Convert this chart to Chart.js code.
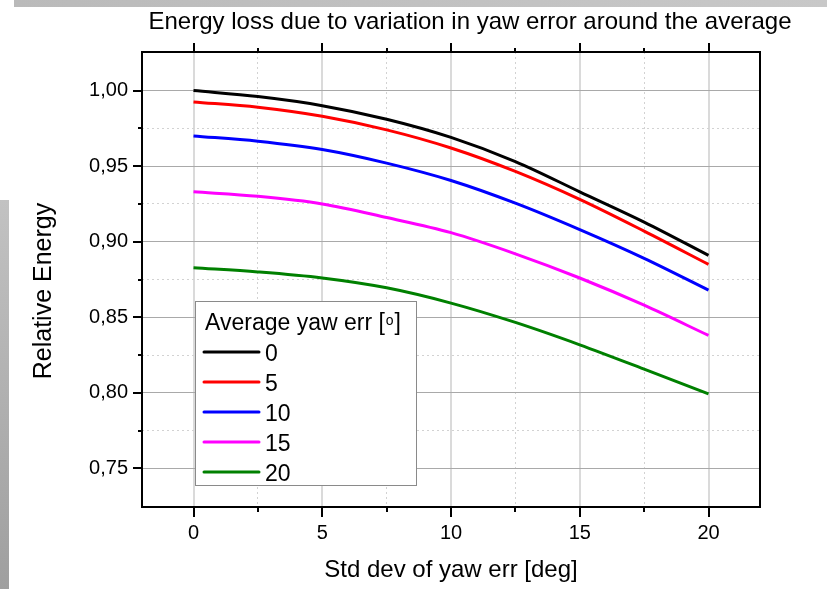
<!DOCTYPE html>
<html>
<head>
<meta charset="utf-8">
<title>Energy loss due to variation in yaw error around the average</title>
<script src="https://cdn.jsdelivr.net/npm/chart.js@4.4.1/dist/chart.umd.min.js"></script>
<style>
  html, body { margin: 0; padding: 0; background: #fff; overflow: hidden; }
  #wrap { position: relative; width: 827px; height: 589px; }
  #chart { position: absolute; left: 0; top: 0; }
  #topBar { position: absolute; left: 14px; top: 0; width: 813px; height: 7px; background: linear-gradient(to right, #bababa, #c8c8c8); }
  #sideBar { position: absolute; left: 0; top: 200px; width: 9px; height: 389px; background: linear-gradient(to bottom, #c2c2c2, #9f9f9f); }
</style>
</head>
<body>
<div id="wrap">
  <canvas id="chart" width="827" height="589"></canvas>
  <div id="topBar"></div>
  <div id="sideBar"></div>
</div>
<script>
// std dev of yaw error [deg]
const stdDev = [0, 2.5, 5, 7.5, 10, 12.5, 15, 17.5, 20];

// average yaw error [deg] -> relative energy
const yawAverages = ['0', '5', '10', '15', '20'];
const energyYaw0  = [1.000, 0.996, 0.990, 0.981, 0.969, 0.953, 0.933, 0.913, 0.891];
const energyYaw5  = [0.9925, 0.989, 0.983, 0.974, 0.962, 0.9465, 0.928, 0.907, 0.885];
const energyYaw10 = [0.970, 0.9665, 0.961, 0.952, 0.9405, 0.9255, 0.908, 0.889, 0.868];
const energyYaw15 = [0.933, 0.930, 0.925, 0.916, 0.906, 0.892, 0.876, 0.858, 0.838];
const energyYaw20 = [0.8828, 0.880, 0.876, 0.8695, 0.8594, 0.8466, 0.8318, 0.8157, 0.7993];

const xTickValues = [0, 2.5, 5, 7.5, 10, 12.5, 15, 17.5, 20];
const yTickValues = [0.75, 0.775, 0.8, 0.825, 0.85, 0.875, 0.9, 0.925, 0.95, 0.975, 1.0];

const seriesColors = ['#000000', '#ff0000', '#0000ff', '#ff00ff', '#008000'];
const FONT = '"Liberation Sans", Arial, sans-serif';

Chart.defaults.font.family = FONT;
Chart.defaults.color = '#000';

const isMajorX = (v) => Math.abs(v / 5 - Math.round(v / 5)) < 1e-6;
const isMajorY = (v) => Math.abs(v * 20 - Math.round(v * 20)) < 1e-6;

const allSeries = [energyYaw0, energyYaw5, energyYaw10, energyYaw15, energyYaw20];
const datasets = allSeries.map((values, i) => ({
    label: yawAverages[i],
    data: values.map((v, j) => ({ x: stdDev[j], y: v })),
    borderColor: seriesColors[i],
    backgroundColor: seriesColors[i],
    borderWidth: 3,
    pointRadius: 0,
    fill: false,
    cubicInterpolationMode: 'monotone',
}));

// title, axis titles, frame, tick marks and the inset legend
const decorations = {
    id: 'decorations',
    afterDatasetsDraw(chart) {
        const { ctx, chartArea } = chart;
        // legend box
        const bx = chartArea.left + 53, by = chartArea.top + 249, bw = 221, bh = 184;
        ctx.save();
        ctx.fillStyle = '#fff';
        ctx.fillRect(bx, by, bw, bh);
        ctx.strokeStyle = '#8a8a8a';
        ctx.lineWidth = 1;
        ctx.strokeRect(bx + 0.5, by + 0.5, bw, bh);

        ctx.fillStyle = '#000';
        ctx.textAlign = 'left';
        ctx.textBaseline = 'alphabetic';
        ctx.font = '23px ' + FONT;
        const head = 'Average yaw err [';
        ctx.fillText(head, bx + 10, by + 29);
        let hx = bx + 10 + ctx.measureText(head).width;
        ctx.font = '14px ' + FONT;
        ctx.fillText('o', hx + 1, by + 23.5);
        hx += ctx.measureText('o').width + 2;
        ctx.font = '23px ' + FONT;
        ctx.fillText(']', hx, by + 29);

        chart.data.datasets.forEach((ds, i) => {
            const ry = by + 51 + i * 30;
            ctx.strokeStyle = ds.borderColor;
            ctx.lineWidth = 3;
            ctx.lineCap = 'round';
            ctx.beginPath();
            ctx.moveTo(bx + 9, ry);
            ctx.lineTo(bx + 64, ry);
            ctx.stroke();
            ctx.fillStyle = '#000';
            ctx.fillText(ds.label, bx + 70, ry + 8.5);
        });
        ctx.restore();
    },
    afterDraw(chart) {
        const { ctx, chartArea, scales } = chart;
        const { left, right, top, bottom } = chartArea;
        ctx.save();
        ctx.strokeStyle = '#000';
        ctx.lineWidth = 2;
        ctx.lineCap = 'butt';
        ctx.strokeRect(left, top, right - left, bottom - top);

        ctx.beginPath();
        scales.x.ticks.forEach(t => {
            const px = Math.round(scales.x.getPixelForValue(t.value));
            const major = isMajorX(t.value);
            ctx.moveTo(px, bottom);
            ctx.lineTo(px, bottom + (major ? 10 : 5));
            ctx.moveTo(px, top);
            ctx.lineTo(px, top - (major ? 9 : 4));
        });
        scales.y.ticks.forEach(t => {
            const py = Math.round(scales.y.getPixelForValue(t.value));
            const major = isMajorY(t.value);
            ctx.moveTo(left, py);
            ctx.lineTo(left - (major ? 9 : 4), py);
        });
        ctx.stroke();

        ctx.fillStyle = '#000';
        ctx.textBaseline = 'alphabetic';
        ctx.textAlign = 'center';
        ctx.font = '24px ' + FONT;
        ctx.fillText('Energy loss due to variation in yaw error around the average', 470, 28.5);
        ctx.fillText('Std dev of yaw err [deg]', (left + right) / 2, 577);
        ctx.font = '25px ' + FONT;
        ctx.translate(51, 291);
        ctx.rotate(-Math.PI / 2);
        ctx.fillText('Relative Energy', 0, 0);
        ctx.restore();
    }
};

new Chart(document.getElementById('chart'), {
    type: 'line',
    data: { datasets },
    options: {
        responsive: false,
        animation: false,
        layout: { padding: { top: 52, right: 67, left: 0, bottom: 0 } },
        plugins: {
            legend: { display: false },
            tooltip: { enabled: false },
            title: { display: false },
        },
        scales: {
            x: {
                type: 'linear',
                min: -2,
                max: 22,
                afterBuildTicks: (scale) => { scale.ticks = xTickValues.map(v => ({ value: v })); },
                afterFit: (scale) => { scale.height = 82; },
                ticks: {
                    autoSkip: false,
                    maxRotation: 0,
                    padding: 14,
                    font: { size: 20 },
                    color: '#000',
                    callback: (v) => isMajorX(v) ? String(v) : '',
                },
                grid: {
                    drawTicks: false,
                    color: (c) => c.tick && isMajorX(c.tick.value) ? '#dadada' : '#d2d2d2',
                    lineWidth: (c) => c.tick && isMajorX(c.tick.value) ? 2 : 1,
                },
                border: {
                    display: false,
                    dash: (c) => c.tick && !isMajorX(c.tick.value) ? [2, 3] : [],
                },
            },
            y: {
                type: 'linear',
                min: 0.7245,
                max: 1.0255,
                afterBuildTicks: (scale) => { scale.ticks = yTickValues.map(v => ({ value: v })); },
                afterFit: (scale) => { scale.width = 142; },
                ticks: {
                    autoSkip: false,
                    padding: 14,
                    font: { size: 20 },
                    color: '#000',
                    callback: (v) => isMajorY(v) ? v.toFixed(2).replace('.', ',') : '',
                },
                grid: {
                    drawTicks: false,
                    color: (c) => c.tick && isMajorY(c.tick.value) ? '#a9a9a9' : '#d2d2d2',
                    lineWidth: 1,
                },
                border: {
                    display: false,
                    dash: (c) => c.tick && !isMajorY(c.tick.value) ? [2, 3] : [],
                },
            },
        },
    },
    plugins: [decorations],
});
</script>
</body>
</html>
